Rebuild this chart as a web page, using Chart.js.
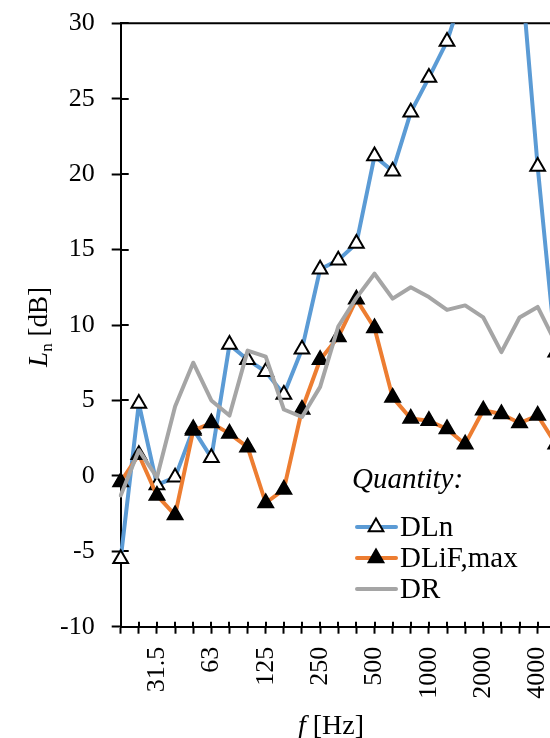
<!DOCTYPE html>
<html>
<head>
<meta charset="utf-8">
<script src="https://cdn.jsdelivr.net/npm/chart.js@4/dist/chart.umd.min.js"></script>
<style>
  html, body { margin: 0; padding: 0; background: #fff; overflow: hidden; }
  #wrap { width: 550px; height: 738px; overflow: hidden; position: relative; }
  canvas { display: block; }
</style>
</head>
<body>
<div id="wrap"><canvas id="c" width="600" height="738"></canvas></div>
<script>
// One-third octave band centre frequencies [Hz]
const bands = ['20','25','31.5','40','50','63','80','100','125','160','200','250','315','400',
               '500','630','800','1000','1250','1600','2000','2500','3150','4000','5000'];
// Bands that carry a tick label
const labeledBands = ['31.5','63','125','250','500','1000','2000','4000'];

// Level differences [dB]
const dLn = [-5.5, 4.8, -0.6, -0.1, 3.1, 1.2, 8.7, 7.7, 6.9, 5.4, 8.4, 13.7, 14.3, 15.4,
             21.2, 20.2, 24.1, 26.4, 28.8, 32.5, 35.5, 37.0, 34.8, 20.5, 8.2];
const dLiFmax = [-0.4, 1.4, -1.3, -2.6, 3.0, 3.5, 2.8, 1.9, -1.8, -0.9, 4.4, 7.7, 9.2, 11.7,
                 9.8, 5.2, 3.8, 3.65, 3.1, 2.1, 4.35, 4.1, 3.5, 4.0, 2.1];
const dR = [-1.3, 1.7, -0.1, 4.6, 7.5, 5.0, 4.0, 8.3, 7.9, 4.4, 3.9, 5.9, 9.9, 11.8,
            13.4, 11.75, 12.5, 11.85, 11.0, 11.3, 10.5, 8.2, 10.5, 11.2, 8.8];

const seriesNames = ['DLn', 'DLiF,max', 'DR'];
const legendTitle = 'Quantity:';
const yMin = -10, yMax = 30, yStep = 5;

const SERIF = '"Liberation Serif", "Times New Roman", serif';
const FONT_PX = 26;
const LEGEND_PX = 29;

// Inner halves of the tick marks, top frame line, axis titles and legend
const decor = {
  id: 'decor',
  beforeDatasetsDraw(chart) {
    const { ctx, chartArea: a, scales: { x, y } } = chart;
    ctx.save();
    ctx.strokeStyle = '#000';
    ctx.lineWidth = 2;
    ctx.beginPath();
    ctx.moveTo(a.left, a.top);
    ctx.lineTo(a.right + 10, a.top);
    ctx.stroke();
    ctx.beginPath();
    x.ticks.forEach((t, i) => {
      const px = Math.round(x.getPixelForTick(i));
      ctx.moveTo(px, a.bottom);
      ctx.lineTo(px, a.bottom - 5);
    });
    y.ticks.forEach((t, i) => {
      const py = Math.round(y.getPixelForTick(i));
      ctx.moveTo(a.left, py);
      ctx.lineTo(a.left + 8, py);
    });
    ctx.stroke();
    ctx.restore();
  },
  afterDraw(chart) {
    const { ctx } = chart;
    ctx.save();
    ctx.fillStyle = '#000';
    ctx.textBaseline = 'alphabetic';
    ctx.textAlign = 'left';

    // y axis title: L (italic) with subscript n, then [dB]
    const yT = '27px ' + SERIF, yTi = 'italic 27px ' + SERIF, sub = '17px ' + SERIF;
    ctx.font = yTi; const wL = ctx.measureText('L').width;
    ctx.font = sub; const wn = ctx.measureText('n').width;
    ctx.font = yT; const wB = ctx.measureText(' [dB]').width;
    const totY = wL + wn + wB;
    ctx.save();
    ctx.translate(47, 327);
    ctx.rotate(-Math.PI / 2);
    let cx = -totY / 2;
    ctx.font = yTi; ctx.fillText('L', cx, 0); cx += wL;
    ctx.font = sub; ctx.fillText('n', cx, 5); cx += wn;
    ctx.font = yT; ctx.fillText(' [dB]', cx, 0);
    ctx.restore();

    // x axis title: f (italic) then [Hz]
    const xT = '28px ' + SERIF, xTi = 'italic 28px ' + SERIF;
    ctx.font = xTi; const wf = ctx.measureText('f').width;
    ctx.font = xT; const wH = ctx.measureText(' [Hz]').width;
    let fx = 331 - (wf + wH) / 2;
    ctx.font = xTi; ctx.fillText('f', fx, 734); fx += wf;
    ctx.font = xT; ctx.fillText(' [Hz]', fx, 734);

    // legend
    const lg = LEGEND_PX + 'px ' + SERIF;
    ctx.font = 'italic ' + lg;
    ctx.fillText(legendTitle, 352, 488);
    chart.data.datasets.forEach((ds, i) => {
      const cy = 527 + i * 31;
      ctx.strokeStyle = ds.borderColor;
      ctx.lineWidth = 4;
      ctx.lineCap = 'round';
      ctx.beginPath();
      ctx.moveTo(357, cy);
      ctx.lineTo(396, cy);
      ctx.stroke();
      if (ds.pointRadius > 0) {
        const r = ds.pointRadius, mx = 376;
        ctx.beginPath();
        ctx.moveTo(mx, cy - r);
        ctx.lineTo(mx + r * Math.sin(2 * Math.PI / 3), cy + r / 2);
        ctx.lineTo(mx - r * Math.sin(2 * Math.PI / 3), cy + r / 2);
        ctx.closePath();
        ctx.fillStyle = ds.pointBackgroundColor;
        ctx.fill();
        ctx.lineWidth = ds.pointBorderWidth;
        ctx.lineJoin = 'miter';
        ctx.strokeStyle = ds.pointBorderColor;
        ctx.stroke();
      }
      ctx.fillStyle = '#000';
      ctx.font = lg;
      ctx.textBaseline = 'middle';
      ctx.fillText(ds.label, 400, cy + 1);
      ctx.textBaseline = 'alphabetic';
    });
    ctx.restore();
  }
};

const lineBase = {
  borderWidth: 4,
  tension: 0,
  fill: false,
  borderJoinStyle: 'round',
  borderCapStyle: 'round',
  pointStyle: 'triangle',
  pointBorderWidth: 2,
  pointBorderColor: '#000'
};

new Chart(document.getElementById('c'), {
  type: 'line',
  data: {
    labels: bands,
    datasets: [
      Object.assign({}, lineBase, {
        label: seriesNames[0], data: dLn, order: 2,
        borderColor: '#5B9BD5', pointRadius: 8.5, pointBackgroundColor: '#fff'
      }),
      Object.assign({}, lineBase, {
        label: seriesNames[1], data: dLiFmax, order: 1,
        borderColor: '#ED7D31', pointRadius: 8.5, pointBackgroundColor: '#000'
      }),
      Object.assign({}, lineBase, {
        label: seriesNames[2], data: dR, order: 0,
        borderColor: '#A5A5A5', pointRadius: 0, pointBackgroundColor: '#A5A5A5'
      })
    ]
  },
  options: {
    responsive: false,
    maintainAspectRatio: false,
    animation: false,
    events: [],
    layout: { padding: { top: 23.3, right: 44.2, bottom: 0, left: 0 } },
    plugins: { legend: { display: false }, tooltip: { enabled: false } },
    scales: {
      x: {
        type: 'category',
        offset: false,
        border: { display: true, color: '#000', width: 2 },
        grid: { display: true, drawOnChartArea: false, drawTicks: true, tickLength: 7, tickColor: '#000', tickWidth: 2 },
        ticks: {
          autoSkip: false, minRotation: 90, maxRotation: 90, padding: 13,
          color: '#000', font: { family: SERIF, size: FONT_PX },
          callback: function (v, i) { const l = bands[i]; return labeledBands.includes(l) ? l : ''; }
        },
        afterFit(s) { s.height = 111.3; s.paddingLeft = 0; s.paddingRight = 0; }
      },
      y: {
        min: yMin, max: yMax,
        border: { display: true, color: '#000', width: 2 },
        grid: { display: true, drawOnChartArea: false, drawTicks: true, tickLength: 9, tickColor: '#000', tickWidth: 2 },
        ticks: { stepSize: yStep, padding: 17, color: '#000', font: { family: SERIF, size: FONT_PX } },
        afterFit(s) { s.width = 120.7; s.paddingTop = 0; s.paddingBottom = 0; }
      }
    }
  },
  plugins: [decor]
});
</script>
</body>
</html>
